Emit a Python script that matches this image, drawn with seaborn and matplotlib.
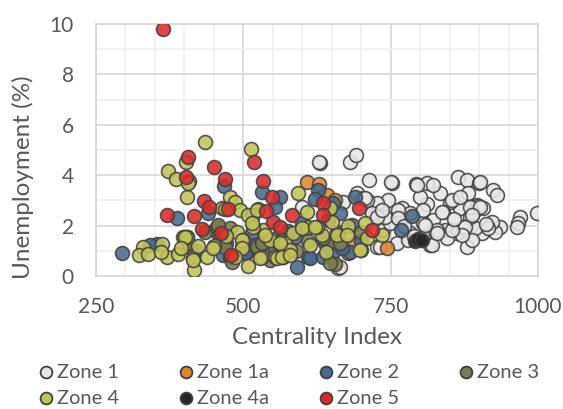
import matplotlib
matplotlib.use("Agg")
import matplotlib.pyplot as plt
import seaborn as sns
import pandas as pd
from matplotlib.ticker import MultipleLocator
from matplotlib.lines import Line2D

# ---- data (Centrality Index, Unemployment %) ----
zone1_x = [630, 681, 691, 713, 752, 793, 812, 864, 880, 900, 924, 930, 998, 970, 966, 964,
           936, 927, 905, 893, 880, 881, 897, 868, 851, 834, 839, 822, 805, 812, 800, 842,
           862, 846, 817, 783, 766, 769, 745, 727, 710, 693, 723, 737, 727, 761, 661, 907,
           885, 922, 783, 749, 805, 829, 873, 902, 898, 890, 915, 876, 888, 751, 795, 854,
           763, 837, 718, 740, 808, 820, 779, 628, 732, 727, 703, 763, 871, 854, 829, 805,
           822, 868, 885, 902, 888, 669, 664, 600, 706, 735, 772, 790, 858, 912]
zone1_y = [4.48, 4.52, 4.80, 3.81, 3.69, 3.65, 3.69, 3.93, 3.81, 3.69, 3.41, 3.21, 2.50, 2.34, 2.10, 1.95,
           1.95, 1.75, 1.71, 1.90, 1.15, 3.29, 2.82, 2.70, 2.94, 3.29, 2.54, 2.22, 2.10, 2.86, 3.13, 1.83,
           1.71, 1.51, 1.23, 1.71, 2.22, 2.70, 3.02, 2.90, 3.02, 3.29, 2.42, 1.83, 1.15, 1.31, 0.32, 2.70,
           2.34, 2.14, 2.50, 2.10, 1.55, 1.83, 1.95, 3.73, 2.78, 2.50, 1.90, 1.95, 1.43, 3.73, 3.61, 3.02,
           2.62, 2.54, 2.50, 2.34, 2.02, 1.23, 1.43, 4.52, 1.15, 2.34, 3.10, 2.30, 1.63, 1.83, 1.71, 2.62,
           3.61, 3.13, 2.74, 2.74, 2.42, 2.94, 0.36, 2.74, 3.10, 2.60, 2.00, 1.60, 2.25, 2.05]

zone1a_x = [608, 628, 642, 656, 744, 678, 688]
zone1a_y = [3.73, 3.65, 3.21, 3.02, 1.13, 0.91, 1.31]

zone2_x = [294, 387, 353, 467, 465, 506, 532, 562, 440, 452, 515, 554, 455, 503, 549, 627,
           591, 610, 639, 659, 690, 684, 681, 664, 652, 622, 588, 644, 786, 767, 613, 635,
           652, 477, 342, 470, 520, 575, 600, 668, 700, 420]
zone2_y = [0.91, 2.30, 1.27, 3.57, 0.83, 0.95, 3.33, 3.13, 2.50, 1.83, 1.71, 2.74, 1.75, 0.91, 1.03, 3.41,
           0.36, 0.75, 1.31, 1.75, 3.13, 2.02, 0.95, 2.50, 2.90, 3.06, 1.55, 2.22, 2.38, 1.83, 0.71, 0.75,
           0.95, 0.75, 1.25, 1.30, 1.25, 1.80, 2.10, 1.10, 1.40, 1.00]

zone3_x = [656, 404, 398, 410, 435, 455, 477, 523, 554, 567, 644, 661, 559, 571, 469, 498,
           532, 557, 545, 457, 406, 635, 664, 647, 590, 610, 700, 480]
zone3_y = [0.48, 1.55, 1.55, 1.15, 1.75, 1.95, 1.90, 1.15, 1.15, 0.75, 1.31, 1.63, 1.55, 1.23, 1.15, 1.15,
           1.31, 1.35, 0.63, 2.02, 1.31, 1.51, 1.31, 0.52, 1.00, 1.40, 1.75, 0.55]

zone4_x = [435, 513, 372, 386, 403, 408, 404, 477, 486, 464, 525, 516, 330, 323, 338, 362,
           370, 389, 404, 415, 416, 423, 438, 450, 489, 499, 508, 532, 533, 516, 554, 571,
           593, 608, 610, 584, 633, 650, 659, 678, 676, 706, 710, 735, 700, 613, 579, 557,
           528, 415, 498, 498, 545, 562, 625, 647, 600, 622, 566, 698, 406, 469, 494, 508,
           523, 515, 537, 449, 486, 401, 395, 360, 470, 580, 640]
zone4_y = [5.32, 5.04, 4.17, 3.85, 4.52, 3.77, 3.13, 3.13, 2.94, 2.70, 2.66, 2.42, 1.15, 0.83, 0.87, 1.27,
           0.75, 0.87, 1.55, 0.71, 0.24, 1.19, 0.75, 1.19, 1.75, 1.43, 0.40, 0.75, 1.83, 1.95, 0.75, 1.31,
           3.30, 2.54, 1.95, 1.71, 1.63, 2.14, 1.63, 1.98, 1.63, 2.10, 1.51, 1.63, 1.03, 1.23, 1.03, 0.71,
           0.71, 0.63, 1.43, 1.11, 1.43, 1.31, 1.95, 2.70, 1.90, 1.95, 0.75, 1.03, 3.69, 2.66, 2.62, 2.42,
           2.62, 2.10, 1.63, 1.11, 0.75, 1.55, 1.10, 0.95, 1.60, 0.85, 0.95]

zone4a_x = [791, 796, 803]
zone4a_y = [1.39, 1.47, 1.43]

zone5_x = [364, 370, 403, 406, 450, 469, 518, 533, 549, 433, 442, 474, 416, 430, 462, 479,
           538, 550, 562, 583, 635, 635, 696, 718]
zone5_y = [9.80, 2.42, 3.93, 4.72, 4.33, 3.85, 4.52, 3.77, 3.14, 2.98, 2.74, 2.66, 2.38, 1.86, 1.71, 0.85,
           2.58, 2.14, 1.95, 2.42, 2.90, 2.42, 2.70, 1.83]

zones = ["Zone 1", "Zone 1a", "Zone 2", "Zone 3", "Zone 4", "Zone 4a", "Zone 5"]
colors = ["#E6E6E6", "#DE8531", "#466A8C", "#7C7D4B", "#C3C257", "#262626", "#D92B2B"]

xs = [zone1_x, zone1a_x, zone2_x, zone3_x, zone4_x, zone4a_x, zone5_x]
ys = [zone1_y, zone1a_y, zone2_y, zone3_y, zone4_y, zone4a_y, zone5_y]

rows = []
for z, xv, yv in zip(zones, xs, ys):
    for a, b in zip(xv, yv):
        rows.append((z, a, b))
df = pd.DataFrame(rows, columns=["zone", "x", "y"])

sns.set_theme(style="white")
plt.rcParams["font.family"] = ["Lato", "DejaVu Sans"]

W, H = 563, 409
fig = plt.figure(figsize=(W / 100, H / 100), dpi=100)
ax = fig.add_axes([96 / W, 1 - 276 / H, 442 / W, 252 / H])

palette = dict(zip(zones, colors))
for z in zones:
    sub = df[df.zone == z]
    sns.scatterplot(data=sub, x="x", y="y", color=palette[z], s=100,
                    edgecolor="#404040", linewidth=1.2, alpha=0.88, ax=ax,
                    legend=False, zorder=3)

ax.set_xlim(250, 1000)
ax.set_ylim(0, 10)
ax.xaxis.set_major_locator(MultipleLocator(250))
ax.xaxis.set_minor_locator(MultipleLocator(50))
ax.yaxis.set_major_locator(MultipleLocator(2))
ax.yaxis.set_minor_locator(MultipleLocator(1))
ax.grid(which="major", color="#D9D9D9", linewidth=1.3, zorder=0)
ax.grid(which="minor", color="#F0F0F0", linewidth=1.3, zorder=0)
ax.set_axisbelow(True)
for sp in ax.spines.values():
    sp.set_color("#D9D9D9")
    sp.set_linewidth(1.3)
ax.tick_params(which="both", length=0, labelsize=15, colors="#595959")
ax.tick_params(axis="x", pad=15)
ax.tick_params(axis="y", pad=16)
ax.set_xlabel("Centrality Index", fontsize=17.5, color="#595959", va="center")
ax.set_ylabel("Unemployment (%)", fontsize=17.5, color="#595959", va="center")
ax.xaxis.set_label_coords(0.5, (276 - 337) / 252)
ax.yaxis.set_label_coords((23 - 96) / 442, (276 - 177) / 252)

# legend: 4 columns, row-major like the original
for i, (z, c) in enumerate(zip(zones, colors)):
    r, col = divmod(i, 4)
    mx = (46 + 140 * col) / W
    my = 1 - (372 + 26 * r) / H
    fig.add_artist(Line2D([mx], [my], marker="o", linestyle="none", markersize=8.5,
                          markerfacecolor=c, markeredgecolor="#404040",
                          markeredgewidth=1.3, transform=fig.transFigure))
    fig.text(mx + 11 / W, my, z, fontsize=14.5, color="#595959", va="center", ha="left")

fig.savefig("out.png", dpi=100)
